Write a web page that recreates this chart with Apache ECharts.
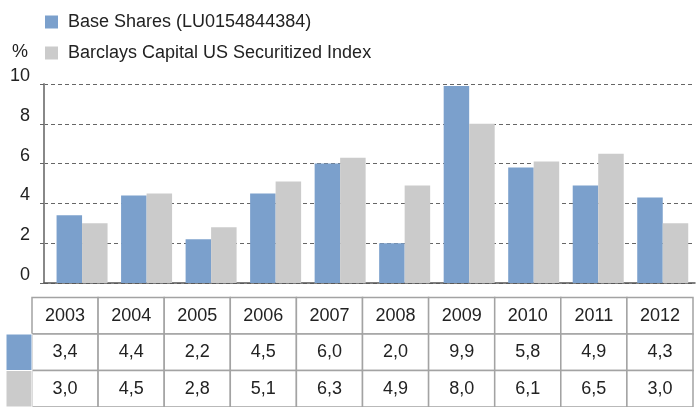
<!DOCTYPE html>
<html>
<head>
<meta charset="utf-8">
<script src="https://cdn.jsdelivr.net/npm/echarts@6/dist/echarts.min.js"></script>
<style>
  html, body { margin: 0; padding: 0; background: #fff; }
  #chart { width: 697px; height: 407px; }
</style>
</head>
<body>
<div id="chart"></div>
<script>
var years = ['2003', '2004', '2005', '2006', '2007', '2008', '2009', '2010', '2011', '2012'];
var baseShares = [3.4, 4.4, 2.2, 4.5, 6.0, 2.0, 9.9, 5.8, 4.9, 4.3];
var indexValues = [3.0, 4.5, 2.8, 5.1, 6.3, 4.9, 8.0, 6.1, 6.5, 3.0];
var seriesNames = ['Base Shares (LU0154844384)', 'Barclays Capital US Securitized Index'];
var tableRows = ['year', 'base', 'index'];

var BLUE = '#7ba0cc';
var GREY = '#cbcbcb';
var FONT = 'Liberation Sans, Arial, sans-serif';

function fmt(v) {
  return v.toFixed(1).replace('.', ',');
}

// cells of the table below the chart
var cells = [];
for (var i = 0; i < years.length; i++) {
  cells.push([i, 0, years[i]]);
  cells.push([i, 1, fmt(baseShares[i])]);
  cells.push([i, 2, fmt(indexValues[i])]);
}
var swatches = [[0, 1, BLUE], [0, 2, GREY]];

function cellItem(params, api) {
  var c = api.coord([api.value(0), api.value(1)]);
  var s = api.size([1, 1]);
  return {
    type: 'rect',
    shape: { x: c[0] - s[0] / 2, y: c[1] - s[1] / 2, width: s[0], height: s[1] },
    style: { fill: '#fff', stroke: '#a3a3a3', lineWidth: 1.5 },
    textContent: {
      style: { text: cells[params.dataIndex][2], fill: '#222', font: '18px ' + FONT }
    },
    textConfig: { position: 'inside' }
  };
}

function swatchItem(params, api) {
  var c = api.coord([api.value(0), api.value(1)]);
  var s = api.size([1, 1]);
  return {
    type: 'rect',
    shape: { x: c[0] - s[0] / 2, y: c[1] - s[1] / 2, width: s[0], height: s[1] },
    style: { fill: swatches[params.dataIndex][2], stroke: '#fff', lineWidth: 1 }
  };
}

var myChart = echarts.init(document.getElementById('chart'));
myChart.setOption({
  animation: false,
  textStyle: { fontFamily: FONT },
  legend: {
    orient: 'vertical',
    left: 45,
    top: 13,
    padding: 0,
    itemWidth: 13,
    itemHeight: 13,
    itemGap: 13,
    icon: 'rect',
    data: seriesNames,
    textStyle: { fontSize: 18, color: '#222', padding: [0, 0, 0, 5] }
  },
  grid: [
    { left: 44, right: 2, top: 84, bottom: 124 },
    { left: 32, right: 4, top: 297.5, bottom: -3 },
    { left: 6, width: 26, top: 297.5, bottom: -3 }
  ],
  xAxis: [
    {
      gridIndex: 0,
      type: 'value',
      min: -0.59,
      max: 9.5,
      axisLine: { show: true, lineStyle: { color: '#555', width: 1.5 } },
      axisTick: { show: false },
      axisLabel: { show: false },
      splitLine: { show: false }
    },
    {
      gridIndex: 1,
      type: 'category',
      data: years,
      show: false
    },
    {
      gridIndex: 2,
      type: 'category',
      data: ['s'],
      show: false
    }
  ],
  yAxis: [
    {
      gridIndex: 0,
      type: 'value',
      min: 0,
      max: 10,
      interval: 2,
      name: '%',
      nameGap: 23,
      nameTextStyle: { fontSize: 18, color: '#222', align: 'right', padding: [0, 16, 0, 0] },
      axisLine: { show: true, onZero: false, lineStyle: { color: '#888', width: 2 } },
      axisTick: { show: true, length: 4, lineStyle: { color: '#666' } },
      axisLabel: { fontSize: 18, color: '#222', margin: 14, verticalAlign: 'bottom', lineHeight: 16 },
      splitLine: { show: true, lineStyle: { color: '#666', type: [4, 3], width: 1 } }
    },
    {
      gridIndex: 1,
      type: 'category',
      data: tableRows,
      inverse: true,
      show: false
    },
    {
      gridIndex: 2,
      type: 'category',
      data: tableRows,
      inverse: true,
      show: false
    }
  ],
  series: [
    {
      name: seriesNames[0],
      type: 'bar',
      xAxisIndex: 0,
      yAxisIndex: 0,
      barWidth: 25.5,
      barGap: 0,
      itemStyle: { color: BLUE },
      data: baseShares.map(function (v, i) { return [i, v]; })
    },
    {
      name: seriesNames[1],
      type: 'bar',
      xAxisIndex: 0,
      yAxisIndex: 0,
      barWidth: 25.5,
      barGap: 0,
      itemStyle: { color: GREY },
      data: indexValues.map(function (v, i) { return [i, v]; })
    },
    {
      type: 'custom',
      xAxisIndex: 1,
      yAxisIndex: 1,
      renderItem: cellItem,
      data: cells
    },
    {
      type: 'custom',
      xAxisIndex: 2,
      yAxisIndex: 2,
      renderItem: swatchItem,
      data: swatches
    }
  ]
});
</script>
</body>
</html>
